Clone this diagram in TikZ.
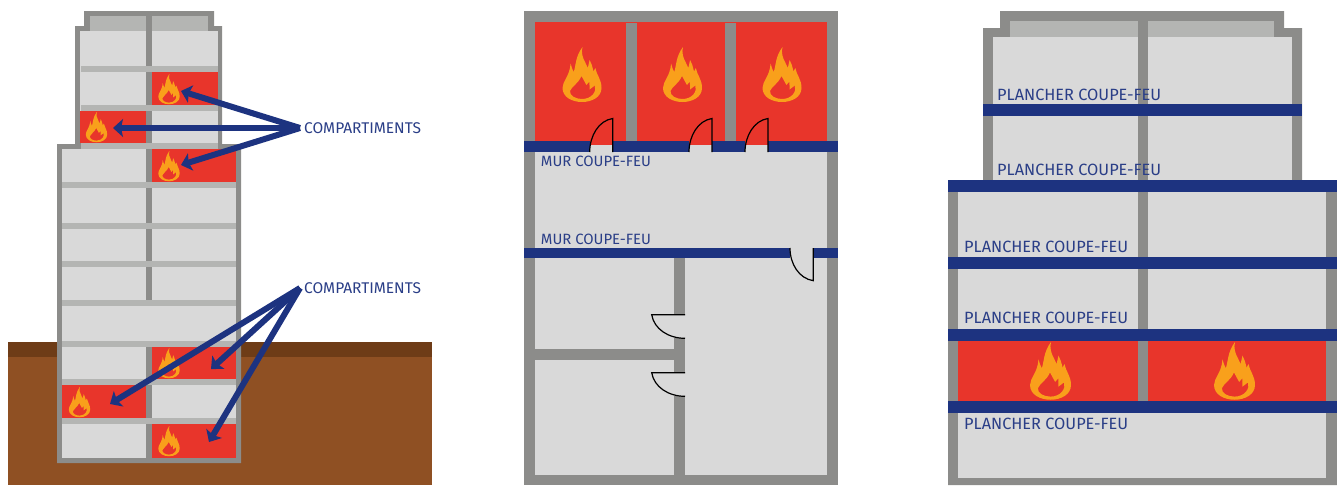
\documentclass[tikz,border=0pt]{standalone}
\usepackage{fontspec}
\setmainfont{Fira Sans}
\usetikzlibrary{arrows.meta}
\definecolor{feuWall}{RGB}{140,140,138}
\definecolor{feuRoom}{RGB}{217,217,217}
\definecolor{feuSlab}{RGB}{180,181,179}
\definecolor{feuRed}{RGB}{232,53,43}
\definecolor{feuFlame}{RGB}{249,160,27}
\definecolor{feuNavy}{RGB}{29,51,128}
\definecolor{feuText}{RGB}{42,62,135}
\definecolor{feuSoil}{RGB}{143,80,35}
\definecolor{feuTurf}{RGB}{110,60,23}
\newcommand{\flame}[3]{\fill[feuFlame,even odd rule,shift={(#1,#2)},scale=#3]
  (0.5,0) .. controls (-1,5) and (0.5,11) .. (3.5,16) -- (5.8,21) -- (7.6,13) .. controls (9.5,16) and (10,19) .. (10.8,21.5)
  -- (11.5,24.5) -- (13.3,21) .. controls (14.5,28) and (19.5,32) .. (19.5,41) .. controls (19.5,50) and (10,55) .. (0,55)
  .. controls (-10,55) and (-19.5,50) .. (-19.5,41) .. controls (-19.5,34) and (-12.5,30) .. (-11.4,16.5)
  .. controls (-10.5,20) and (-9.5,23) .. (-8.3,25) .. controls (-6,19) and (-7,10) .. (0.5,0) -- cycle
  (-12,44) .. controls (-10,39) and (-4,37) .. (-0.5,29) -- (4.4,38) -- (7.4,34.6) -- (7.6,42.5) -- (12.8,38.5)
  .. controls (15,44) and (10,52) .. (0,52) .. controls (-6,52) and (-12.5,49) .. (-12,44) -- cycle;}
\begin{document}
\begin{tikzpicture}[x=1pt,y=-1pt,
      wall/.style={fill=feuWall},
      room/.style={fill=feuRoom},
      slab/.style={fill=feuSlab},
      fire/.style={fill=feuRed},
      barrier/.style={fill=feuNavy},
      doorline/.style={draw=black,line width=1.2pt},
      lbl/.style={anchor=west,inner sep=0pt,text=feuText,font=\fontsize{15.5}{17}\selectfont},
      lblmur/.style={lbl,font=\fontsize{14.9}{17}\selectfont},
      lblplancher/.style={lbl,font=\fontsize{16.3}{17}\selectfont},
      arr/.style={-{Stealth[length=10pt,width=18pt,inset=2pt]},draw=feuNavy,line width=6pt}]
    \useasboundingbox (0,0) rectangle (1337,485);

    \fill[fill=feuSoil] (8,342) rectangle (432,485);
    \fill[fill=feuTurf] (8,342) rectangle (432,357);
    \fill[wall] (84,11) -- (214,11) -- (214,26) -- (222,26) -- (222,144) -- (241,144) -- (241,463)
      -- (57,463) -- (57,144) -- (75,144) -- (75,26) -- (84,26) -- cycle;
    \fill[slab] (90,16) rectangle (208,31);
    \fill[room] (80,31) rectangle (218,143);
    \fill[room] (62,149) rectangle (236,458);
    \fill[wall] (146,16) rectangle (152,300);
    \fill[wall] (146,347) rectangle (152,458);
    \fill[fire] (152,72) rectangle (218,105);
    \fill[fire] (80,111) rectangle (146,143);
    \fill[fire] (152,149) rectangle (236,182);
    \fill[fire] (152,347) rectangle (236,379);
    \fill[fire] (62,385) rectangle (146,418);
    \fill[fire] (152,424) rectangle (236,458);
    \foreach \y in {66,105,143}
      \fill[slab] (81,\y) rectangle (218,\y+6);
    \foreach \y in {182,223,261,300,341,379,418}
      \fill[slab] (62,\y) rectangle (236,\y+6);
    \flame{169}{74}{0.55}
    \flame{96.5}{112}{0.55}
    \flame{169}{151}{0.55}
    \flame{169}{348}{0.55}
    \flame{79.5}{387}{0.55}
    \flame{169}{426}{0.55}
    \node[lbl] (compHaut) at (304,128) {COMPARTIMENTS};
    \node[lbl] (compBas) at (304,288) {COMPARTIMENTS};
    \coordinate (feuA) at (181,91);
    \coordinate (feuB) at (113,128);
    \coordinate (feuC) at (181,165);
    \coordinate (feuD) at (110,404);
    \coordinate (feuE) at (211,369);
    \coordinate (feuF) at (209,442);
    \foreach \t in {feuA,feuB,feuC}
      \draw[arr] ([xshift=-4pt]compHaut.west) -- (\t);
    \foreach \t in {feuD,feuE,feuF}
      \draw[arr] ([xshift=-4pt]compBas.west) -- (\t);

    \fill[wall] (524.3,11) rectangle (837.7,485);
    \fill[room] (535,22) rectangle (827,475.3);
    \fill[fire] (535,22) rectangle (827,145);
    \fill[wall] (626,23) rectangle (637,141);
    \fill[wall] (725,23) rectangle (736,141);
    \fill[wall] (674.3,258) rectangle (685,475.3);
    \fill[wall] (535,349.3) rectangle (674.3,360);
    \fill[barrier] (524.3,141) rectangle (837.7,152);
    \fill[barrier] (524.3,248) rectangle (837.7,258);
    \foreach \x in {612.7,712,768}{
      \fill[fire] (\x-23,141) rectangle (\x,145);
      \fill[room] (\x-23,145) rectangle (\x,152);
      \draw[doorline] (\x,152) -- (\x,118.5) .. controls (\x-14,120.5) and (\x-23,136) .. (\x-23,152);
    }
    \fill[room] (790,248) rectangle (813.3,258);
    \draw[doorline] (813.3,248) -- (813.3,280.7) .. controls (799,278.5) and (790,264) .. (790,248);
    \foreach \y in {314.7,372.7}{
      \fill[room] (674.3,\y) rectangle (685,\y+23.6);
      \draw[doorline] (685,\y) -- (651.7,\y) .. controls (654,\y+14) and (668,\y+23.6) .. (685,\y+23.6);
    }
    \flame{582}{47}{1}
    \flame{682.5}{47}{1}
    \flame{782}{47}{1}
    \node[lblmur] (murHaut) at (540.7,161) {MUR COUPE-FEU};
    \node[lblmur] (murBas) at (540.7,239) {MUR COUPE-FEU};

    \fill[wall] (1000,11) -- (1284,11) -- (1284,28) -- (1302,28) -- (1302,180) -- (1337,180) -- (1337,485)
      -- (948,485) -- (948,180) -- (983,180) -- (983,28) -- (1000,28) -- cycle;
    \fill[slab] (1010,21) rectangle (1274,37);
    \fill[room] (993,37) rectangle (1292,180);
    \fill[room] (958.3,192) rectangle (1326,477.7);
    \fill[wall] (1138,21) rectangle (1148,401);
    \fill[fire] (958.3,341) rectangle (1138,401);
    \fill[fire] (1148,341) rectangle (1326,401);
    \fill[barrier] (983,104) rectangle (1302,116);
    \foreach \y in {180,257,329,401}
      \fill[barrier] (948,\y) rectangle (1337,\y+12);
    \flame{1050.5}{342}{1.05}
    \flame{1234.5}{342}{1.05}
    \node[lblplancher] (plancherA) at (997,95) {PLANCHER COUPE-FEU};
    \node[lblplancher] (plancherB) at (997,170) {PLANCHER COUPE-FEU};
    \node[lblplancher] (plancherC) at (964,247) {PLANCHER COUPE-FEU};
    \node[lblplancher] (plancherD) at (964,318) {PLANCHER COUPE-FEU};
    \node[lblplancher] (plancherE) at (964,424) {PLANCHER COUPE-FEU};
  \end{tikzpicture}
\end{document}
